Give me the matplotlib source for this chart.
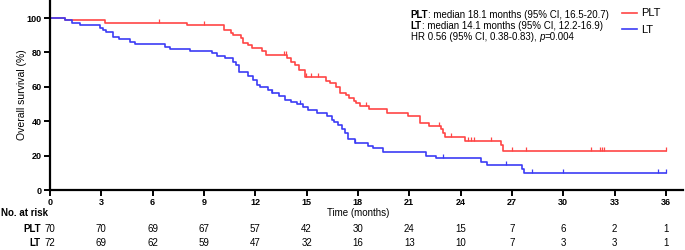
import numpy as np
import matplotlib
matplotlib.use('Agg')
import matplotlib.pyplot as plt
from matplotlib.transforms import blended_transform_factory
from matplotlib.lines import Line2D

plt.rcParams['font.family'] = ['Liberation Sans', 'DejaVu Sans']

# PLT arm: event times (months) and survival (%) after each step
plt_times = [0.88, 3.2, 8.0, 10.19, 10.56, 10.71, 11.14, 11.26, 11.59, 11.79, 12.37, 12.62,
             13.87, 14.1, 14.3, 14.55, 14.9, 16.13, 16.36, 16.7, 16.95, 17.3, 17.5, 17.77,
             17.9, 18.1, 18.66, 19.7, 20.9, 21.6, 22.17, 22.83, 22.95, 23.1, 24.25, 26.35, 26.45]
plt_surv = [98.6, 97.1, 95.9, 93.0, 91.5, 90.1, 88.2, 85.6, 84.3, 82.4, 81.0, 78.5,
            76.5, 74.6, 72.7, 69.8, 65.9, 63.4, 62.0, 60.1, 56.6, 55.2, 53.3, 51.9,
            50.4, 48.8, 46.9, 44.9, 43.0, 39.1, 37.4, 35.3, 33.0, 31.0, 28.7, 26.2, 22.7]
plt_cens = [6.4, 9.0, 13.67, 13.79, 14.95, 15.25, 15.65, 18.45, 22.75, 23.45, 24.45, 24.6,
            24.8, 25.75, 26.98, 27.84, 31.6, 32.15, 32.25, 32.4, 36.0]

# LT arm
lt_times = [0.88, 1.27, 1.75, 2.92, 3.08, 3.3, 3.7, 4.03, 4.68, 4.97, 6.72, 7.0, 8.18,
            9.45, 9.78, 10.23, 10.71, 10.87, 11.07, 11.59, 11.88, 12.08, 12.27, 12.76,
            12.95, 13.4, 13.73, 14.1, 14.45, 14.77, 15.1, 15.6, 16.2, 16.47, 16.6, 16.85,
            17.05, 17.24, 17.4, 17.8, 18.6, 18.9, 19.48, 21.98, 22.56, 25.2, 25.53, 27.6, 27.72]
lt_surv = [98.6, 97.2, 95.8, 94.4, 93.0, 91.7, 89.2, 87.6, 86.2, 84.9, 83.3, 81.9, 80.7,
           79.6, 78.2, 76.5, 74.4, 72.7, 68.8, 66.5, 64.0, 61.0, 60.0, 58.1,
           56.2, 54.7, 52.3, 51.0, 49.8, 48.1, 46.5, 44.9, 43.0, 40.9, 39.7, 37.8,
           35.3, 33.0, 29.7, 27.5, 25.6, 24.2, 22.3, 20.0, 18.4, 16.5, 14.5, 12.0, 9.7]
lt_cens = [12.95, 14.6, 17.8, 22.95, 26.65, 28.15, 30.0, 35.55, 36.0]

risk_times = [0, 3, 6, 9, 12, 15, 18, 21, 24, 27, 30, 33, 36]
risk_plt = [70, 70, 69, 67, 57, 42, 30, 24, 15, 7, 6, 2, 1]
risk_lt = [72, 69, 62, 59, 47, 32, 16, 13, 10, 7, 3, 3, 1]

red = '#FF4545'
blue = '#3C3CF5'


def km_curve(ax, times, surv, cens, color):
    t = np.concatenate([[0], times, [36.0]])
    s = np.concatenate([[100], surv, [surv[-1]]])
    ax.step(t, s, where='post', color=color, lw=1.2)
    # censor ticks
    c = np.array(cens)
    idx = np.searchsorted(t, c, side='right') - 1
    lev = s[idx]
    ax.vlines(c, lev, lev + 2.4, color=color, lw=0.9)


fig = plt.figure(figsize=(6.85, 2.5), dpi=100)
ax = fig.add_axes([50 / 685, 60 / 250, 633 / 685, 190 / 250])

km_curve(ax, plt_times, plt_surv, plt_cens, red)
km_curve(ax, lt_times, lt_surv, lt_cens, blue)

ax.set_xlim(0, 37)
ax.set_ylim(0, 110.5)
ax.spines['top'].set_visible(False)
ax.spines['right'].set_visible(False)
ax.spines['left'].set_linewidth(1.6)
ax.spines['bottom'].set_linewidth(1.6)
ax.set_xticks(risk_times)
ax.set_yticks([0, 20, 40, 60, 80, 100])
ax.tick_params(direction='out', length=4, width=1.4, pad=2, labelsize=6.5)
for lab in ax.get_xticklabels() + ax.get_yticklabels():
    lab.set_fontweight('bold')
ax.set_ylabel('Overall survival (%)', fontsize=7.5)
ax.yaxis.set_label_coords(-23 / 633, 0.5)

# legend
handles = [Line2D([], [], color=red, lw=1.2), Line2D([], [], color=blue, lw=1.2)]
fig.legend(handles, ['PLT', 'LT'], loc='upper left', bbox_to_anchor=(618 / 685, 1 - 4 / 250),
           frameon=False, fontsize=8, handlelength=1.3, handletextpad=0.4,
           labelspacing=0.6, borderaxespad=0)

# annotation with mixed weights
fs = 7
y0 = 1 - 14.7 / 250
dy = 11.3 / 250
x0 = 410.7 / 685
t1 = fig.text(x0, y0, 'PLT', fontsize=fs, fontweight='bold', va='center')
ax.annotate(': median 18.1 months (95% CI, 16.5-20.7)', xy=(1, 0.5), xycoords=t1,
            va='center', fontsize=fs)
t2 = fig.text(x0, y0 - dy, 'LT', fontsize=fs, fontweight='bold', va='center')
ax.annotate(': median 14.1 months (95% CI, 12.2-16.9)', xy=(1, 0.5), xycoords=t2,
            va='center', fontsize=fs)
t3 = fig.text(x0, y0 - 2 * dy, 'HR 0.56 (95% CI, 0.38-0.83), ', fontsize=fs, va='center')
t4 = ax.annotate('p', xy=(1, 0.5), xycoords=t3, va='center', fontsize=fs, style='italic')
ax.annotate('=0.004', xy=(1, 0.5), xycoords=t4, va='center', fontsize=fs)

# number at risk table
tr = blended_transform_factory(ax.transData, fig.transFigure)
fig.text(1 / 685, 1 - 213 / 250, 'No. at risk', fontsize=7, fontweight='bold', va='center')
fig.text(358 / 685, 1 - 213 / 250, 'Time (months)', fontsize=7, va='center', ha='center')
fig.text(41 / 685, 1 - 229 / 250, 'PLT', fontsize=7, fontweight='bold', va='center', ha='right')
fig.text(41 / 685, 1 - 243 / 250, 'LT', fontsize=7, fontweight='bold', va='center', ha='right')
for t, a, b in zip(risk_times, risk_plt, risk_lt):
    ax.text(t, 1 - 229 / 250, str(a), transform=tr, fontsize=7, ha='center', va='center')
    ax.text(t, 1 - 243 / 250, str(b), transform=tr, fontsize=7, ha='center', va='center')

fig.savefig('out.png', dpi=100)
